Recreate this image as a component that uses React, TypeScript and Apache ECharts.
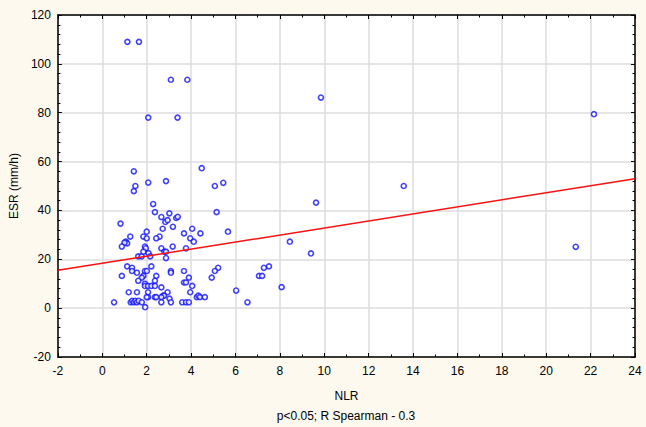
import React, { useEffect, useRef } from "react";
import * as echarts from "echarts";

const nlr = [
  1.13, 1.65, 3.09, 3.83, 9.85, 22.15, 2.07, 3.39, 4.48, 1.42,
  1.49, 1.42, 2.07, 2.87, 5.07, 5.45, 13.58, 9.63, 2.29, 2.37,
  5.15, 3.02, 2.66, 3.33, 3.40, 2.84, 2.94, 0.82, 3.18, 2.72,
  4.05, 2.00, 5.66, 3.68, 4.42, 1.26, 1.85, 2.58, 2.00, 2.43,
  3.96, 4.12, 8.45, 1.06, 1.12, 1.00, 0.88, 1.92, 1.96, 3.17,
  2.66, 3.77, 21.33, 1.85, 2.08, 2.80, 2.87, 9.40, 1.62, 1.77,
  2.16, 2.87, 1.12, 2.21, 1.34, 1.34, 7.51, 7.28, 5.22, 1.92,
  2.01, 3.68, 3.09, 3.09, 5.07, 1.56, 1.85, 1.78, 2.43, 0.88,
  3.90, 4.93, 7.06, 7.20, 1.62, 2.37, 3.68, 3.77, 1.92, 1.92,
  2.06, 2.21, 2.37, 2.66, 4.05, 8.08, 1.19, 1.56, 2.06, 2.94,
  3.96, 6.03, 2.74, 2.78, 2.66, 2.06, 2.00, 2.37, 2.43, 3.03,
  4.26, 4.33, 4.40, 4.62, 0.53, 1.28, 1.35, 1.42, 1.49, 1.56,
  1.64, 1.78, 2.66, 3.09, 3.60, 3.77, 3.90, 6.54, 1.93,
];

const esr = [
  109, 109, 93.5, 93.5, 86.2, 79.4, 78, 78, 57.3, 56,
  50, 47.9, 51.4, 52, 50, 51.3, 50, 43.2, 42.6, 39.3,
  39.3, 38.8, 37.3, 36.9, 37.4, 35.3, 36, 34.6, 33.3, 32.5,
  32.5, 31.3, 31.3, 30.6, 30.6, 29.3, 29.3, 29.3, 28.6, 28.6,
  28.6, 27.2, 27.2, 27.2, 26.5, 26.8, 25.2, 25.2, 24.5, 25.2,
  24.5, 24.5, 25.1, 23.1, 22.5, 23.1, 23.1, 22.4, 21.2, 21.2,
  21.2, 20.5, 17.1, 17.1, 16.5, 15.2, 17.1, 16.5, 16.5, 15.2,
  15.2, 15.2, 15.2, 14.5, 15.2, 14.5, 13.2, 12.5, 13.2, 13.2,
  12.5, 12.5, 13.2, 13.2, 11.2, 11.2, 10.5, 10.5, 10.0, 9.1,
  9.1, 9.1, 9.1, 8.5, 9.1, 8.6, 6.5, 6.5, 6.5, 6.5,
  6.5, 7.2, 5.1, 5.1, 4.5, 4.5, 4.5, 4.5, 4.5, 3.9,
  4.5, 5.1, 4.5, 4.5, 2.4, 2.4, 3.0, 2.4, 3.0, 2.4,
  3.0, 2.4, 2.4, 2.4, 2.4, 2.4, 2.4, 2.4, 0.4,
];

const fitX = [-2, 24];
const fitY = [15.5, 53.0];

const xTitle = "NLR";
const yTitle = "ESR (mm/h)";
const note = "p<0.05; R Spearman - 0.3";

const FONT = "'Liberation Sans', Arial, sans-serif";

export default function App() {
  const ref = useRef<HTMLDivElement>(null);
  useEffect(() => {
    if (!ref.current) return;
    const chart = echarts.init(ref.current, undefined, { renderer: "svg" });
    const points = nlr.map((x, i) => [x, esr[i]]);
    const fit = fitX.map((x, i) => [x, fitY[i]]);
    const frameLine = { show: true, lineStyle: { color: "#000", width: 1.5 } };
    const tick = { show: true, inside: true, length: 4, lineStyle: { color: "#000", width: 1 } };
    const minor = (n: number) => ({ show: true, splitNumber: n, length: 2.5, lineStyle: { color: "#000", width: 1 } });
    chart.setOption({
      animation: false,
      backgroundColor: "#fdf9ee",
      textStyle: { fontFamily: FONT },
      grid: {
        left: 57, right: 11, top: 15, bottom: 70,
        show: true, backgroundColor: "#ffffff", borderWidth: 0,
      },
      xAxis: [
        {
          type: "value", position: "bottom", min: -2, max: 24, interval: 2,
          axisLine: { ...frameLine, onZero: false },
          axisTick: tick, minorTick: minor(2),
          splitLine: { show: true, lineStyle: { color: "#dcdcdc", width: 1.5 } },
          axisLabel: { color: "#000", fontSize: 12, margin: 8, fontFamily: FONT },
          name: xTitle, nameLocation: "middle", nameGap: 33,
          nameTextStyle: { color: "#000", fontSize: 12, fontFamily: FONT },
        },
        {
          type: "value", position: "top", min: -2, max: 24, interval: 2,
          axisLine: { ...frameLine, onZero: false },
          axisTick: tick, minorTick: minor(2),
          splitLine: { show: false }, axisLabel: { show: false },
        },
      ],
      yAxis: [
        {
          type: "value", position: "left", min: -20, max: 120, interval: 20,
          axisLine: { ...frameLine, onZero: false },
          axisTick: tick, minorTick: minor(5),
          splitLine: { show: true, lineStyle: { color: "#dcdcdc", width: 1.5 } },
          axisLabel: { color: "#000", fontSize: 12, margin: 7, fontFamily: FONT },
          name: yTitle, nameLocation: "middle", nameGap: 35, nameRotate: 90,
          nameTextStyle: { color: "#000", fontSize: 12, fontFamily: FONT },
        },
        {
          type: "value", position: "right", min: -20, max: 120, interval: 20,
          axisLine: { ...frameLine, onZero: false },
          axisTick: tick, minorTick: minor(5),
          splitLine: { show: false }, axisLabel: { show: false },
        },
      ],
      graphic: [
        {
          type: "text", x: 346, y: 410,
          style: {
            text: note, align: "center", verticalAlign: "top",
            fontSize: 12, fontFamily: FONT, fill: "#000",
          },
        },
      ],
      series: [
        {
          type: "scatter", data: points, xAxisIndex: 0, yAxisIndex: 0,
          symbol: "circle", symbolSize: 5,
          itemStyle: { color: "#ffffff", borderColor: "#1010ff", borderWidth: 1.6 },
          z: 3,
        },
        {
          type: "line", data: fit, xAxisIndex: 0, yAxisIndex: 0,
          showSymbol: false, symbol: "none",
          lineStyle: { color: "#ff1010", width: 1.5 },
          z: 4,
        },
      ],
    });
    return () => chart.dispose();
  }, []);
  return (
    <div
      ref={ref}
      style={{ position: "fixed", left: 0, top: 0, width: 646, height: 427 }}
    />
  );
}
